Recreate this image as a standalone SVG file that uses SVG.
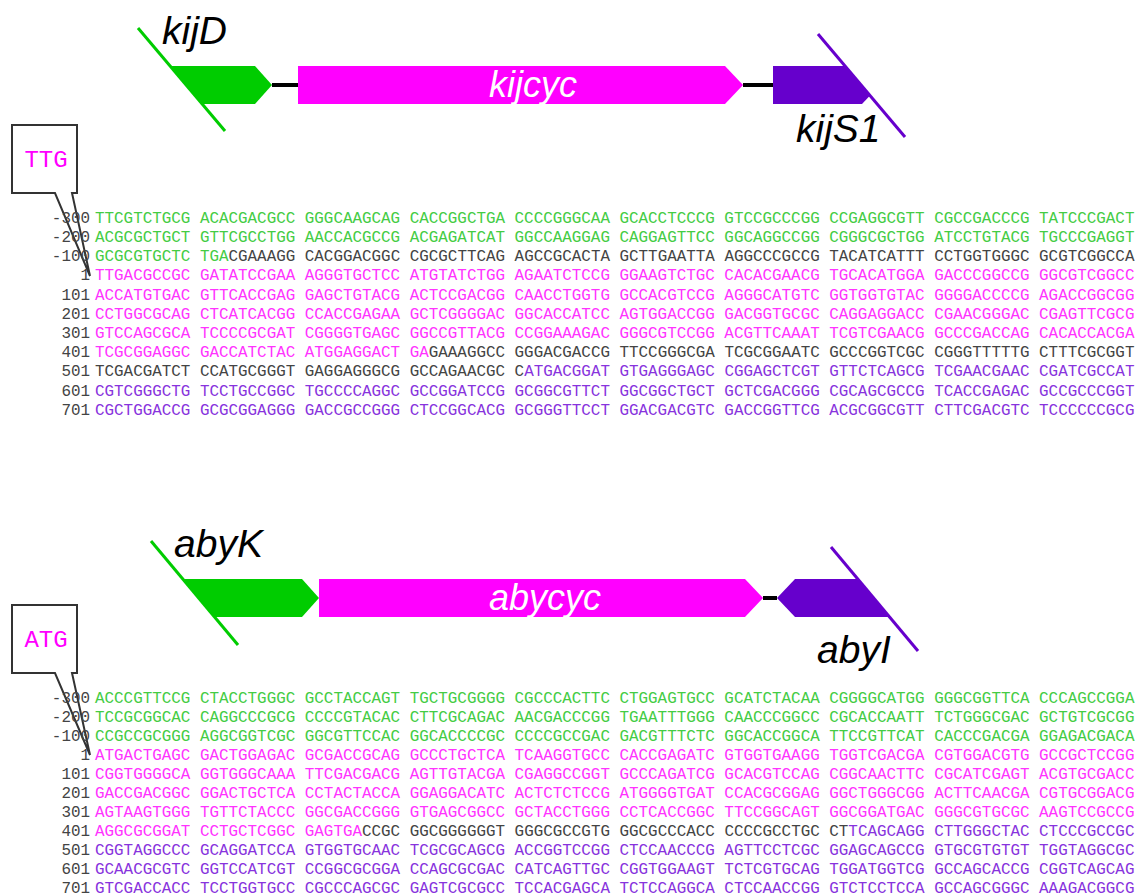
<svg xmlns="http://www.w3.org/2000/svg" width="1136" height="896" viewBox="0 0 1136 896">
<style>
.seq{font-family:"Liberation Mono","Courier New",monospace;font-size:15.9px}
.num{font-family:"Liberation Mono","Courier New",monospace;font-size:15.9px;fill:#444;text-anchor:end}
.g{fill:#44CC44}.m{fill:#FF33FF}.p{fill:#8833DD}.k{fill:#444444}
.lbl{font-family:"Liberation Sans",Arial,sans-serif;font-style:italic;font-size:39px;fill:#000}
.inl{font-family:"Liberation Sans",Arial,sans-serif;font-style:italic;font-size:36px;fill:#fff;text-anchor:middle}
.link{stroke:#000;stroke-width:4}
.box{fill:#fff;stroke:#333;stroke-width:2}
.cod{font-family:"Liberation Mono","Courier New",monospace;font-size:24px;fill:#FF00FF;text-anchor:middle}
</style>
<defs>
<clipPath id="clipS1"><polygon points="700,0 818,34 905,137 700,137"/></clipPath>
</defs>

<g id="connectors">
<line class="link" x1="272" y1="85" x2="298" y2="85"/>
<line class="link" x1="743" y1="85" x2="773" y2="85"/>
<line class="link" x1="763" y1="598" x2="777" y2="598"/>
</g>

<g id="kijD">
<polygon points="170,66 255,66 272,85 255,104 202,104" fill="#00CC00"/>
<line x1="138" y1="28" x2="225" y2="131" stroke="#00CC00" stroke-width="3"/>
<text class="lbl" x="162" y="44">kijD</text>
</g>
<g id="kijcyc">
<polygon points="298,66 725,66 743,85 725,104 298,104" fill="#FF00FF"/>
<text class="inl" x="533" y="97">kijcyc</text>
</g>
<g id="kijS1">
<polygon points="773,66 862,66 880,85 862,104 773,104" fill="#6600CC" clip-path="url(#clipS1)"/>
<line x1="818" y1="34" x2="905" y2="137" stroke="#6600CC" stroke-width="3"/>
<text class="lbl" x="796" y="142">kijS1</text>
</g>

<g id="callout-TTG">
<path class="box" d="M12,125 H77 V193 H72 L90,276 L55,193 H12 Z"/>
<text class="cod" x="46" y="167">TTG</text>
</g>

<g id="seq-top">
<text class="num" x="90" y="223">-300</text>
<text class="num" x="90" y="242">-200</text>
<text class="num" x="90" y="261">-100</text>
<text class="num" x="90" y="280">1</text>
<text class="num" x="90" y="300">101</text>
<text class="num" x="90" y="319">201</text>
<text class="num" x="90" y="338">301</text>
<text class="num" x="90" y="357">401</text>
<text class="num" x="90" y="376">501</text>
<text class="num" x="90" y="396">601</text>
<text class="num" x="90" y="415">701</text>
<text class="seq g" x="95" y="223">TTCGTCTGCG ACACGACGCC GGGCAAGCAG CACCGGCTGA CCCCGGGCAA GCACCTCCCG GTCCGCCCGG CCGAGGCGTT CGCCGACCCG TATCCCGACT</text>
<text class="seq g" x="95" y="242">ACGCGCTGCT GTTCGCCTGG AACCACGCCG ACGAGATCAT GGCCAAGGAG CAGGAGTTCC GGCAGGCCGG CGGGCGCTGG ATCCTGTACG TGCCCGAGGT</text>
<text class="seq" x="95" y="261"><tspan class="g">GCGCGTGCTC TGA</tspan><tspan class="k">CGAAAGG CACGGACGGC CGCGCTTCAG AGCCGCACTA GCTTGAATTA AGGCCCGCCG TACATCATTT CCTGGTGGGC GCGTCGGCCA</tspan></text>
<text class="seq m" x="95" y="280">TTGACGCCGC GATATCCGAA AGGGTGCTCC ATGTATCTGG AGAATCTCCG GGAAGTCTGC CACACGAACG TGCACATGGA GACCCGGCCG GGCGTCGGCC</text>
<text class="seq m" x="95" y="300">ACCATGTGAC GTTCACCGAG GAGCTGTACG ACTCCGACGG CAACCTGGTG GCCACGTCCG AGGGCATGTC GGTGGTGTAC GGGGACCCCG AGACCGGCGG</text>
<text class="seq m" x="95" y="319">CCTGGCGCAG CTCATCACGG CCACCGAGAA GCTCGGGGAC GGCACCATCC AGTGGACCGG GACGGTGCGC CAGGAGGACC CGAACGGGAC CGAGTTCGCG</text>
<text class="seq m" x="95" y="338">GTCCAGCGCA TCCCCGCGAT CGGGGTGAGC GGCCGTTACG CCGGAAAGAC GGGCGTCCGG ACGTTCAAAT TCGTCGAACG GCCCGACCAG CACACCACGA</text>
<text class="seq" x="95" y="357"><tspan class="m">TCGCGGAGGC GACCATCTAC ATGGAGGACT GA</tspan><tspan class="k">GAAAGGCC GGGACGACCG TTCCGGGCGA TCGCGGAATC GCCCGGTCGC CGGGTTTTTG CTTTCGCGGT</tspan></text>
<text class="seq" x="95" y="376"><tspan class="k">TCGACGATCT CCATGCGGGT GAGGAGGGCG GCCAGAACGC C</tspan><tspan class="p">ATGACGGAT GTGAGGGAGC CGGAGCTCGT GTTCTCAGCG TCGAACGAAC CGATCGCCAT</tspan></text>
<text class="seq p" x="95" y="396">CGTCGGGCTG TCCTGCCGGC TGCCCCAGGC GCCGGATCCG GCGGCGTTCT GGCGGCTGCT GCTCGACGGG CGCAGCGCCG TCACCGAGAC GCCGCCCGGT</text>
<text class="seq p" x="95" y="415">CGCTGGACCG GCGCGGAGGG GACCGCCGGG CTCCGGCACG GCGGGTTCCT GGACGACGTC GACCGGTTCG ACGCGGCGTT CTTCGACGTC TCCCCCCGCG</text>
</g>

<g id="abyK">
<polygon points="183,579 302,579 319,598 302,617 215,617" fill="#00CC00"/>
<line x1="151" y1="541" x2="238" y2="645" stroke="#00CC00" stroke-width="3"/>
<text class="lbl" x="174" y="557">abyK</text>
</g>
<g id="abycyc">
<polygon points="319,579 745,579 763,598 745,617 319,617" fill="#FF00FF"/>
<text class="inl" x="545" y="610">abycyc</text>
</g>
<g id="abyI">
<polygon points="777,598 795,579 858,579 890,617 795,617" fill="#6600CC"/>
<line x1="831" y1="547" x2="918" y2="651" stroke="#6600CC" stroke-width="3"/>
<text class="lbl" x="817" y="663">abyI</text>
</g>

<g id="callout-ATG">
<path class="box" d="M12,605 H77 V673 H72 L90,755 L55,673 H12 Z"/>
<text class="cod" x="46" y="647">ATG</text>
</g>

<g id="seq-bottom">
<text class="num" x="90" y="703">-300</text>
<text class="num" x="90" y="722">-200</text>
<text class="num" x="90" y="741">-100</text>
<text class="num" x="90" y="760">1</text>
<text class="num" x="90" y="779">101</text>
<text class="num" x="90" y="798">201</text>
<text class="num" x="90" y="817">301</text>
<text class="num" x="90" y="836">401</text>
<text class="num" x="90" y="855">501</text>
<text class="num" x="90" y="874">601</text>
<text class="num" x="90" y="893">701</text>
<text class="seq g" x="95" y="703">ACCCGTTCCG CTACCTGGGC GCCTACCAGT TGCTGCGGGG CGCCCACTTC CTGGAGTGCC GCATCTACAA CGGGGCATGG GGGCGGTTCA CCCAGCCGGA</text>
<text class="seq g" x="95" y="722">TCCGCGGCAC CAGGCCCGCG CCCCGTACAC CTTCGCAGAC AACGACCCGG TGAATTTGGG CAACCCGGCC CGCACCAATT TCTGGGCGAC GCTGTCGCGG</text>
<text class="seq g" x="95" y="741">CCGCCGCGGG AGGCGGTCGC GGCGTTCCAC GGCACCCCGC CCCCGCCGAC GACGTTTCTC GGCACCGGCA TTCCGTTCAT CACCCGACGA GGAGACGACA</text>
<text class="seq m" x="95" y="760">ATGACTGAGC GACTGGAGAC GCGACCGCAG GCCCTGCTCA TCAAGGTGCC CACCGAGATC GTGGTGAAGG TGGTCGACGA CGTGGACGTG GCCGCTCCGG</text>
<text class="seq m" x="95" y="779">CGGTGGGGCA GGTGGGCAAA TTCGACGACG AGTTGTACGA CGAGGCCGGT GCCCAGATCG GCACGTCCAG CGGCAACTTC CGCATCGAGT ACGTGCGACC</text>
<text class="seq m" x="95" y="798">GACCGACGGC GGACTGCTCA CCTACTACCA GGAGGACATC ACTCTCTCCG ATGGGGTGAT CCACGCGGAG GGCTGGGCGG ACTTCAACGA CGTGCGGACG</text>
<text class="seq m" x="95" y="817">AGTAAGTGGG TGTTCTACCC GGCGACCGGG GTGAGCGGCC GCTACCTGGG CCTCACCGGC TTCCGGCAGT GGCGGATGAC GGGCGTGCGC AAGTCCGCCG</text>
<text class="seq" x="95" y="836"><tspan class="m">AGGCGCGGAT CCTGCTCGGC GAGTGA</tspan><tspan class="k">CCGC GGCGGGGGGT GGGCGCCGTG GGCGCCCACC CCCCGCCTGC CT</tspan><tspan class="p">TCAGCAGG CTTGGGCTAC CTCCCGCCGC</tspan></text>
<text class="seq p" x="95" y="855">CGGTAGGCCC GCAGGATCCA GTGGTGCAAC TCGCGCAGCG ACCGGTCCGG CTCCAACCCG AGTTCCTCGC GGAGCAGCCG GTGCGTGTGT TGGTAGGCGC</text>
<text class="seq p" x="95" y="874">GCAACGCGTC GGTCCATCGT CCGGCGCGGA CCAGCGCGAC CATCAGTTGC CGGTGGAAGT TCTCGTGCAG TGGATGGTCG GCCAGCACCG CGGTCAGCAG</text>
<text class="seq p" x="95" y="893">GTCGACCACC TCCTGGTGCC CGCCCAGCGC GAGTCGCGCC TCCACGAGCA TCTCCAGGCA CTCCAACCGG GTCTCCTCCA GCCAGCGGGC AAAGACGGCG</text>
</g>
</svg>
